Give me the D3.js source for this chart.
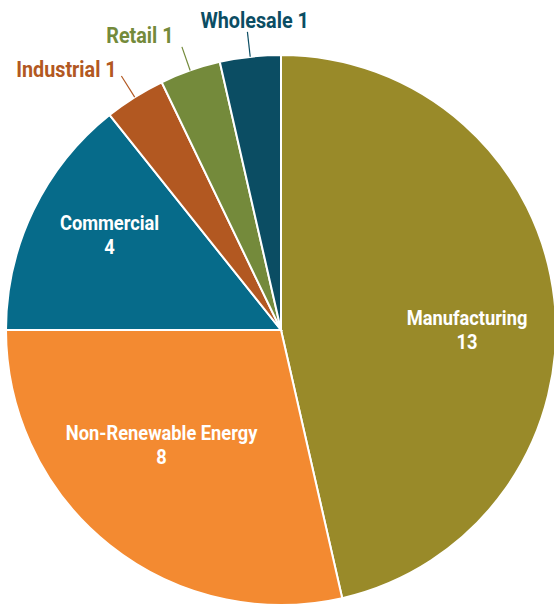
<!DOCTYPE html>
<html>
<head>
<meta charset="utf-8">
<script src="https://cdn.jsdelivr.net/npm/d3@7"></script>
<style>
  body { margin: 0; background: #fff; }
  text { font-family: "Roboto", "Liberation Sans", sans-serif; font-weight: bold; }
</style>
</head>
<body>
<div id="chart"></div>
<script>
// data, clockwise from 12 o'clock
const categories = ["Manufacturing", "Non-Renewable Energy", "Commercial", "Industrial", "Retail", "Wholesale"];
const counts = [13, 8, 4, 1, 1, 1];
const colors = ["#998a29", "#f38a31", "#066b8a", "#b25821", "#748a3b", "#0b4d63"];
const outside = [false, false, false, true, true, true];

const width = 554;
const height = 606;
const cx = 281, cy = 330;
const radius = 275;

// label placement (angle in degrees from top, distance from center)
const insideLabelPos = { "Manufacturing": [90, 186], "Non-Renewable Energy": [226, 166], "Commercial": [299, 196] };

const svg = d3.select("#chart")
    .append("svg")
    .attr("width", width)
    .attr("height", height)
    .attr("viewBox", [0, 0, width, height]);

const g = svg.append("g").attr("transform", `translate(${cx},${cy})`);

const pie = d3.pie().sort(null).value(d => d.value);
const arc = d3.arc().innerRadius(0).outerRadius(radius);

const data = categories.map((c, i) => ({ name: c, value: counts[i], color: colors[i], outside: outside[i] }));
const arcs = pie(data);

g.selectAll("path.slice")
    .data(arcs)
    .join("path")
    .attr("class", "slice")
    .attr("d", arc)
    .attr("fill", d => d.data.color)
    .attr("stroke", "#fff")
    .attr("stroke-width", 2);

const polar = (deg, r) => {
    const a = deg * Math.PI / 180;
    return [r * Math.sin(a), -r * Math.cos(a)];
};

// inside labels
const inner = arcs.filter(d => !d.data.outside);
const innerText = g.selectAll("text.inner")
    .data(inner)
    .join("text")
    .attr("class", "inner")
    .attr("text-anchor", "middle")
    .attr("fill", "#fff")
    .attr("font-size", 21)
    .attr("transform", d => {
        const p = insideLabelPos[d.data.name];
        const [x, y] = polar(p[0], p[1]);
        return `translate(${x},${y}) scale(0.87,1)`;
    });
innerText.append("tspan").attr("x", 0).attr("y", -5).text(d => d.data.name);
innerText.append("tspan").attr("x", 0).attr("y", 19).text(d => d.value);

// outside labels with leader lines
const outer = arcs.filter(d => d.data.outside);
const mid = d => (d.startAngle + d.endAngle) / 2 * 180 / Math.PI;

g.selectAll("line.leader")
    .data(outer)
    .join("line")
    .attr("class", "leader")
    .attr("x1", d => polar(mid(d), radius)[0])
    .attr("y1", d => polar(mid(d), radius)[1])
    .attr("x2", d => polar(mid(d), radius + 25)[0])
    .attr("y2", d => polar(mid(d), radius + 25)[1])
    .attr("stroke", d => d.data.color)
    .attr("stroke-width", 1.2);

g.selectAll("text.outer")
    .data(outer)
    .join("text")
    .attr("class", "outer")
    .attr("fill", d => d.data.color)
    .attr("font-size", 22)
    .attr("text-anchor", d => d.data.name === "Wholesale" ? "middle" : "end")
    .attr("transform", d => {
        const [x, y] = polar(mid(d), radius + 32);
        const dx = d.data.name === "Wholesale" ? 8 : d.data.name === "Retail" ? -6 : -1;
        const dy = d.data.name === "Industrial" ? 7 : 3;
        return `translate(${x + dx},${y + dy}) scale(0.9,1)`;
    })
    .text(d => d.data.name + " " + d.value);
</script>
</body>
</html>
